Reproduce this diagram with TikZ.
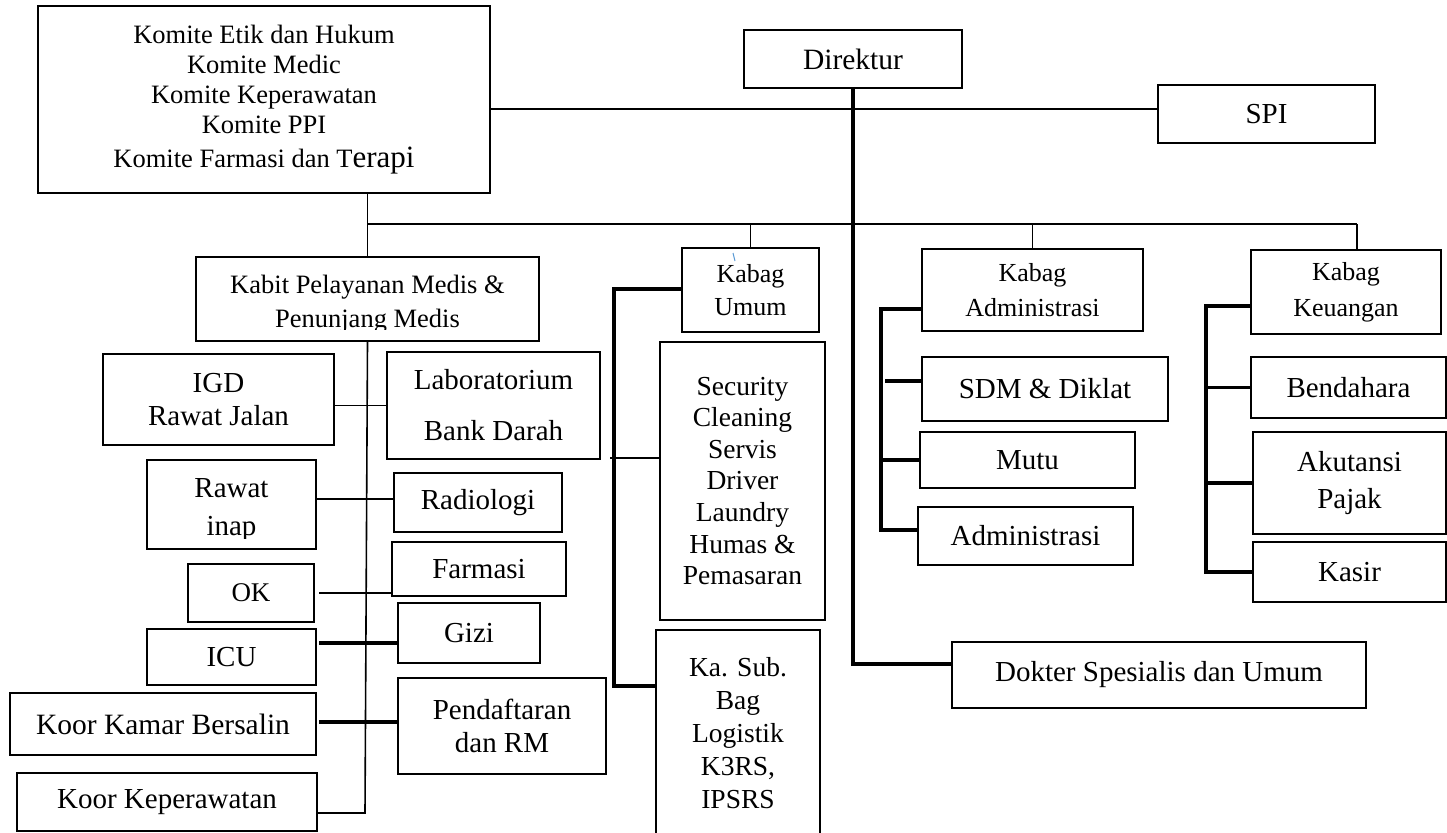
\documentclass[tikz,border=0pt]{standalone}
\usepackage{fontspec}
\setmainfont{Liberation Serif}
\newcommand\fs[2]{\fontsize{#1pt}{#2pt}\selectfont}
\newcommand\bx[7][]{\node[box,minimum width={(#5-#3)*0.5pt},minimum height={(#6-#4)*0.5pt},#1] (#2) at ({(#3+#5)/2},{(#4+#6)/2}) {#7};}
\definecolor{tickblue}{RGB}{91,155,213}
\begin{document}
\begin{tikzpicture}[x=0.5pt,y=-0.5pt,
  box/.style={draw,line width=1pt,inner sep=0pt,align=center,font=\fs{14.5}{16.5}},
  cliptext/.style={anchor=base,inner sep=0pt},
  thinline/.style={line width=0.8pt},
  midline/.style={line width=1.2pt},
  thickline/.style={line width=1.7pt}]
\useasboundingbox[fill=white] (0,0) rectangle (1447,832);

% top level
\bx[font=\fs{13.25}{15}]{kom}{38}{6}{490}{193}{Komite Etik dan Hukum\\Komite Medic\\Komite Keperawatan\\Komite PPI\\[2pt]Komite Farmasi dan T{\fs{15.5}{15}erapi}}
\bx[font=\fs{14.75}{16.5}]{dir}{744}{30}{962}{88}{Direktur}
\bx{spi}{1158}{85}{1375}{143}{SPI}

% second level
\bx{kabit}{196}{257}{539}{341}{}
\begin{scope}
  \clip (196,257) rectangle (539,329);
  \node[cliptext,font=\fs{13.25}{15}] (kabitA) at (367.5,293) {Kabit Pelayanan Medis \&};
  \node[cliptext,font=\fs{13.25}{15}] (kabitB) at (367.5,327) {Penunjang Medis};
\end{scope}
\bx[font=\fs{13}{16.5}]{kumum}{682}{248}{819}{332}{Kabag\\Umum}
\bx[font=\fs{13}{17.5}]{kadm}{922}{249}{1143}{331}{Kabag\\Administrasi}
\bx[font=\fs{13}{18}]{kkeu}{1251}{250}{1441}{334}{Kabag\\Keuangan}

% medical units
\bx{igd}{103}{354}{334}{445}{IGD\\Rawat Jalan}
\bx{lab}{387}{352}{600}{459}{Laboratorium\\[9pt]Bank Darah}
\bx{rinap}{147}{460}{316}{549}{}
\begin{scope}
  \clip (147,460) rectangle (316,538);
  \node[cliptext,font=\fs{14.5}{16.5}] (rinapA) at (231.5,497) {Rawat};
  \node[cliptext,font=\fs{14.5}{16.5}] (rinapB) at (231.5,535) {inap};
\end{scope}
\bx{rad}{394}{473}{562}{532}{Radiologi}
\bx{farm}{392}{542}{566}{596}{Farmasi}
\bx[font=\fs{13.5}{16}]{ok}{188}{564}{314}{622}{OK}
\bx{gizi}{398}{603}{540}{663}{Gizi}
\bx{icu}{147}{629}{316}{685}{ICU}
\bx{pend}{398}{678}{606}{774}{Pendaftaran\\dan RM}
\bx[font=\fs{14.75}{16.5}]{kb}{10}{693}{316}{755}{Koor Kamar Bersalin}
\bx{kkep}{17}{773}{317}{831}{Koor Keperawatan}

% umum units
\bx[font=\fs{13.75}{15.8}]{sec}{660}{342}{825}{620}{Security\\Cleaning\\Servis\\Driver\\Laundry\\Humas \&\\Pemasaran}
\bx[font=\fs{13.75}{16.5}]{ksub}{656}{630}{820}{836}{Ka. Sub.\\Bag\\Logistik\\K3RS,\\IPSRS}

% administrasi units
\bx{sdm}{922}{357}{1168}{421}{SDM \& Diklat}
\bx{mutu}{920}{432}{1135}{488}{Mutu}
\bx{adm}{918}{507}{1133}{565}{Administrasi}

% keuangan units
\bx{ben}{1251}{357}{1446}{418}{Bendahara}
\bx{akt}{1253}{432}{1446}{534}{Akutansi\\[2pt]Pajak}
\bx{kas}{1253}{542}{1446}{602}{Kasir}

\bx{dok}{952}{642}{1366}{708}{Dokter Spesialis dan Umum}

% coordinates
\coordinate (b1) at (367,224);
\coordinate (b2) at (1357,224);
\coordinate (ks) at (1158,109);
\coordinate (kv) at (365,813);
\coordinate (u1) at (614,289);
\coordinate (u2) at (614,686);
\coordinate (u3) at (610,458);
\coordinate (a1) at (881,309);
\coordinate (a2) at (881,530);
\coordinate (a3) at (885,381);
\coordinate (k1) at (1206,306);
\coordinate (k2) at (1206,572);

% connectors: top
\draw[midline] (kom.east |- ks) -- (spi.west |- ks);
\draw[thickline] (dir.south) |- ([yshift=5.5pt]dok.west);
\draw[midline] (b1) -- (b2);
\draw[thinline] (kom.south -| kabit.north) -- (kabit.north);
\draw[thinline] (kumum.north |- b1) -- (kumum.north);
\draw[thinline] (kadm.north |- b1) -- (kadm.north);
\draw[thinline] (b2) -- (b2 |- kkeu.north);

% medical spine
\draw[thinline] (kabit.south) -- (kv) -- (kkep.east |- kv);
\draw[thinline] (igd.east |- lab.west) -- (lab.west);
\draw[thinline] (rinap.east |- 0,499) -- (rad.west |- 0,499);
\draw[thinline] ([xshift=2pt]ok.east) -- (farm.west |- ok.east);
\draw[thickline] ([xshift=1pt]icu.east |- 0,643) -- (gizi.west |- 0,643);
\draw[thickline] ([xshift=1pt]kb.east |- 0,722) -- (pend.west |- 0,722);

% umum
\draw[thickline] (kumum.west |- u1) -- (u1) -- (u2) -- (ksub.west |- u2);
\draw[thinline] (u3) -- (sec.west |- u3);

% administrasi
\draw[thickline] (kadm.west |- a1) -- (a1) -- (a2) -- (adm.west |- a2);
\draw[thickline] (a3) -- (sdm.west |- a3);
\draw[thickline] (mutu.west -| a1) -- (mutu.west);

% keuangan
\draw[thickline] (kkeu.west |- k1) -- (k1) -- (k2) -- (kas.west |- k2);
\draw[thickline] (ben.west -| k1) -- (ben.west);
\draw[thickline] (akt.west -| k1) -- (akt.west);

% small blue mark
\draw[tickblue,line width=0.5pt] (733,253) -- (735,261);
\end{tikzpicture}
\end{document}
